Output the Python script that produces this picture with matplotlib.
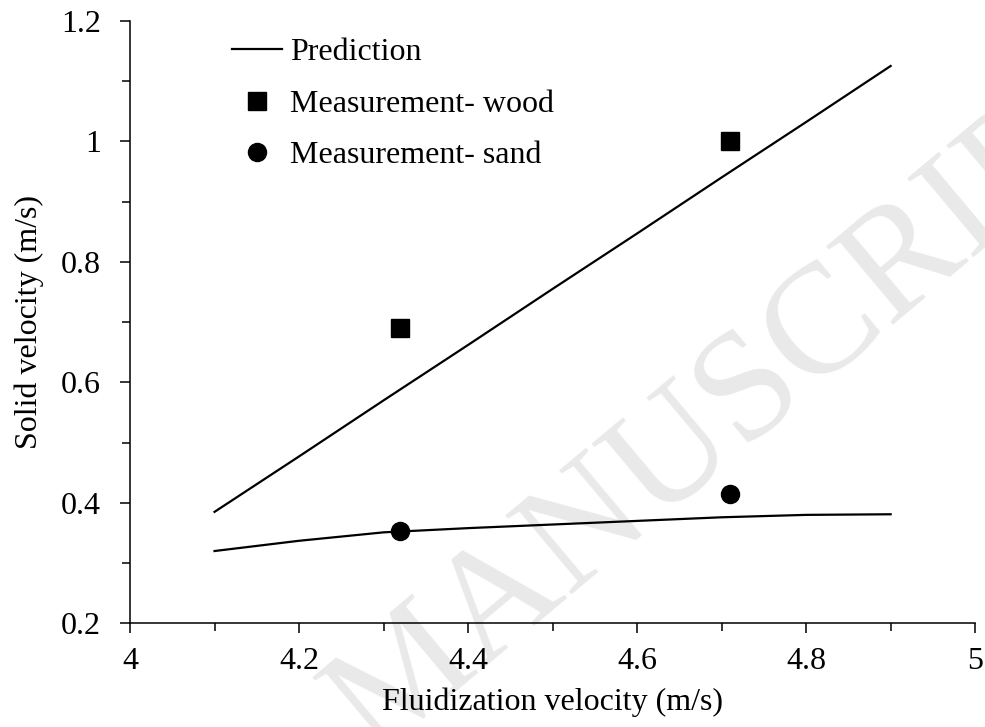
import matplotlib
matplotlib.use('Agg')
import matplotlib.pyplot as plt
from matplotlib.lines import Line2D
from matplotlib.ticker import MultipleLocator

# Predicted solid velocity against fluidization velocity
u_pred = [4.1, 4.2, 4.3, 4.4, 4.5, 4.6, 4.7, 4.8, 4.9]
v_pred_wood = [0.385, 0.477, 0.570, 0.662, 0.755, 0.847, 0.940, 1.032, 1.125]
v_pred_sand = [0.320, 0.337, 0.351, 0.358, 0.364, 0.370, 0.376, 0.380, 0.381]

# Measured points
u_meas = [4.32, 4.71]
v_meas_wood = [0.69, 1.00]
v_meas_sand = [0.354, 0.415]

plt.rcParams['font.family'] = ['Liberation Serif', 'DejaVu Serif']
fs = 23

fig = plt.figure(figsize=(9.85, 7.27), dpi=100)
ax = fig.add_axes([0.132, 0.1426, 0.858, 0.8288])
ax.patch.set_visible(False)

# faint diagonal watermark behind the plot
fig.text(0.38, -0.04, 'MANUSCRIPT', rotation=40, rotation_mode='anchor',
         ha='left', va='baseline', fontsize=113, color='#e9e9e9', zorder=-1)

ax.plot(u_pred, v_pred_wood, color='black', lw=1.6)
ax.plot(u_pred, v_pred_sand, color='black', lw=1.6)
ax.plot(u_meas, v_meas_wood, 's', color='black', ms=13, ls='none')
ax.plot(u_meas, v_meas_sand, 'o', color='black', ms=13, ls='none')

ax.set_xlim(4, 5)
ax.set_ylim(0.2, 1.2)
ax.xaxis.set_major_locator(MultipleLocator(0.2))
ax.xaxis.set_minor_locator(MultipleLocator(0.1))
ax.yaxis.set_major_locator(MultipleLocator(0.2))
ax.yaxis.set_minor_locator(MultipleLocator(0.1))
ax.xaxis.set_major_formatter(lambda v, p: f'{v:g}')
ax.yaxis.set_major_formatter(lambda v, p: f'{v:g}')

for s in ['top', 'right']:
    ax.spines[s].set_visible(False)
for s in ['left', 'bottom']:
    ax.spines[s].set_linewidth(1.1)
ax.tick_params(which='major', direction='out', length=7, width=1.1, labelsize=fs)
ax.tick_params(which='minor', direction='out', length=6, width=1.1)
ax.tick_params(axis='y', which='major', pad=14)
ax.tick_params(axis='x', which='major', pad=10)

ax.set_xlabel('Fluidization velocity (m/s)', fontsize=fs, labelpad=8)
ax.set_ylabel('Solid velocity (m/s)', fontsize=fs, labelpad=12)

handles = [
    Line2D([], [], color='black', lw=1.6),
    Line2D([], [], marker='s', color='black', ms=13, ls='none'),
    Line2D([], [], marker='o', color='black', ms=13, ls='none'),
]
labels = ['Prediction', 'Measurement- wood', 'Measurement- sand']
ax.legend(handles, labels, loc='upper left', bbox_to_anchor=(0.121, 0.972),
          frameon=False, fontsize=fs, handlelength=1.55, handletextpad=0.25,
          labelspacing=0.7, borderpad=0, borderaxespad=0)

fig.savefig('out.png', dpi=100)
